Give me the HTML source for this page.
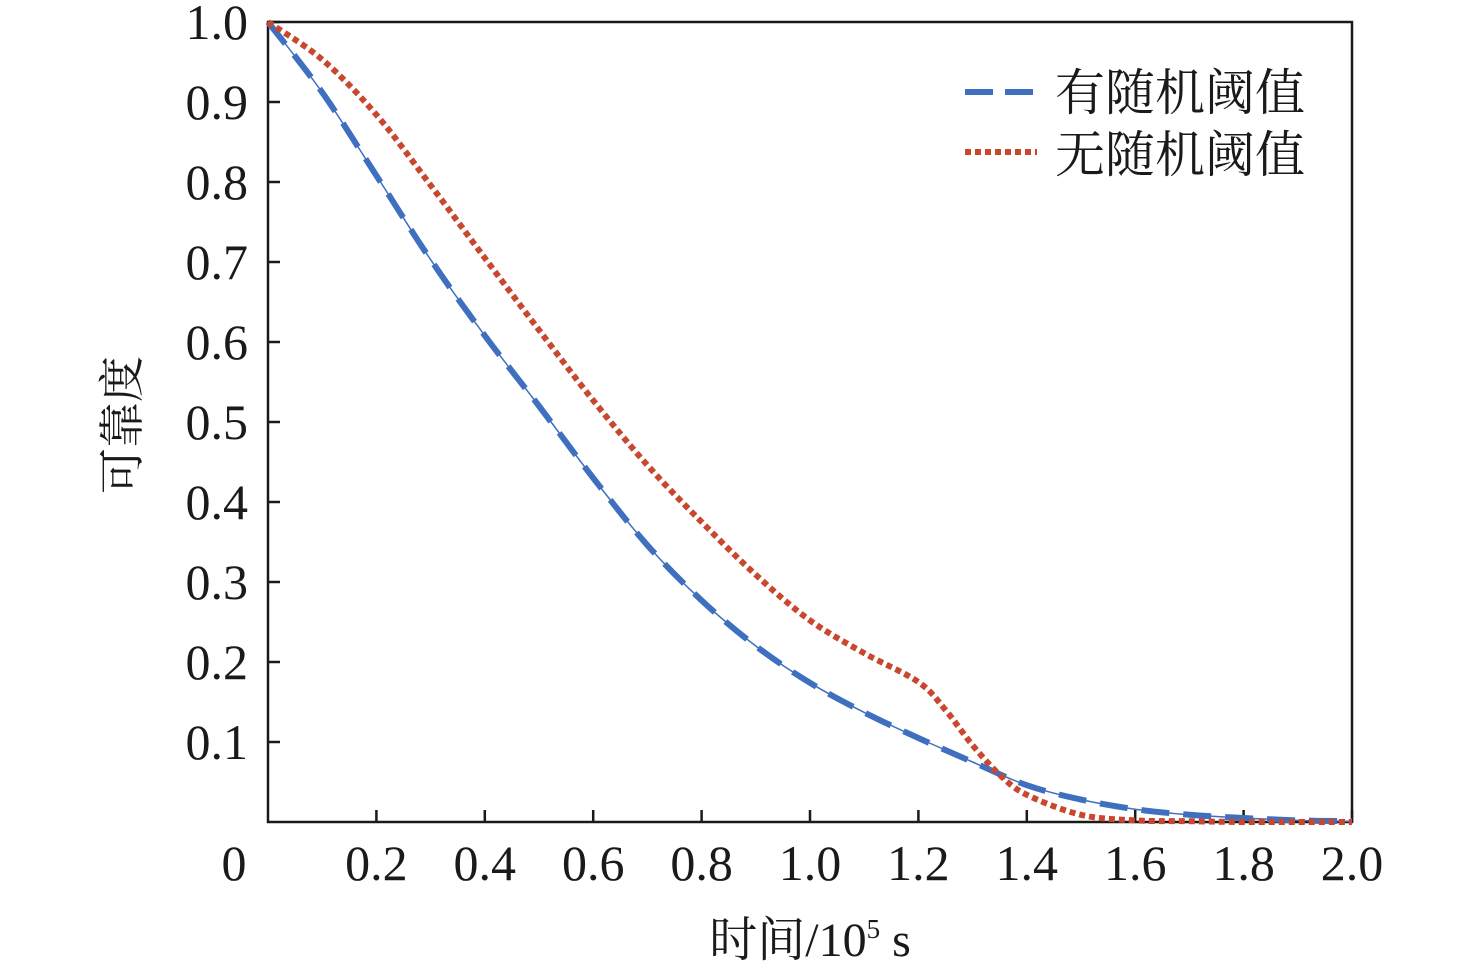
<!DOCTYPE html>
<html><head><meta charset="utf-8"><style>
body{margin:0;background:#fff}
svg text{font-family:"Liberation Serif","Noto Serif CJK SC",serif;fill:#1a1a1a}
</style></head><body>
<svg id="chart" width="1476" height="973" xmlns="http://www.w3.org/2000/svg">
<g id="axes"></g>
<g id="series"></g>
<g id="legend">
  <line x1="965" y1="92" x2="1037" y2="92" stroke="#3f6fbf" stroke-width="6" stroke-dasharray="28,12"/>
  <text x="1055" y="110" font-size="50">有随机阈值</text>
  <line x1="965" y1="152" x2="1037" y2="152" stroke="#c8472e" stroke-width="6" stroke-dasharray="6,4"/>
  <text x="1055" y="172" font-size="50">无随机阈值</text>
</g>
<text x="810" y="956" font-size="48" text-anchor="middle">时间/10<tspan font-size="27" dy="-18">5</tspan><tspan dy="18"> s</tspan></text>
<text transform="translate(138,425) rotate(-90)" font-size="46" text-anchor="middle">可靠度</text>
</svg>
<script>
const xs=[0,0.1,0.2,0.3,0.4,0.5,0.6,0.7,0.8,0.9,1.0,1.1,1.2,1.3,1.4,1.5,1.6,1.7,1.8,1.9,2.0];
const withThreshold=[1.0,0.912,0.808,0.703,0.608,0.52,0.43,0.346,0.277,0.22,0.174,0.137,0.105,0.075,0.046,0.028,0.016,0.009,0.005,0.002,0.001];
const xsNo=[0,0.1,0.2,0.3,0.4,0.5,0.6,0.7,0.8,0.9,1.0,1.1,1.2,1.25,1.3,1.35,1.4,1.5,1.6,1.7,1.8,1.9,2.0];
const withoutThreshold=[1.0,0.953,0.884,0.796,0.705,0.615,0.527,0.446,0.375,0.309,0.252,0.211,0.175,0.14,0.096,0.059,0.034,0.009,0.002,0.001,0,0,0];
const xTicks=[0.2,0.4,0.6,0.8,1.0,1.2,1.4,1.6,1.8,2.0];
const xTickLabels=["0.2","0.4","0.6","0.8","1.0","1.2","1.4","1.6","1.8","2.0"];
const yTicks=[0.1,0.2,0.3,0.4,0.5,0.6,0.7,0.8,0.9,1.0];
const yTickLabels=["0.1","0.2","0.3","0.4","0.5","0.6","0.7","0.8","0.9","1.0"];
const NS="http://www.w3.org/2000/svg";
const X=v=>268+v/2*1084, Y=v=>822-v*800;
function mk(t,a,p){const e=document.createElementNS(NS,t);for(const k in a)e.setAttribute(k,a[k]);p.appendChild(e);return e;}
const ax=document.getElementById('axes');
const frame=mk('rect',{x:268,y:22,width:1084,height:800,fill:'none',stroke:'#1a1a1a','stroke-width':2.5},ax);


xTicks.forEach((v,i)=>{
 const l=mk('line',{x1:X(v),x2:X(v),y1:822,y2:810,stroke:'#1a1a1a','stroke-width':2.5},ax);
 
 
 const t=mk('text',{x:X(v),y:880,'font-size':50,'text-anchor':'middle'},ax);t.textContent=xTickLabels[i];
 
 
});
const z=mk('text',{x:234,y:880,'font-size':50,'text-anchor':'middle'},ax);z.textContent='0';


yTicks.forEach((v,i)=>{
 const l=mk('line',{x1:268,x2:280,y1:Y(v),y2:Y(v),stroke:'#1a1a1a','stroke-width':2.5},ax);
 
 
 const t=mk('text',{x:248,y:Y(v)+17,'font-size':50,'text-anchor':'end'},ax);t.textContent=yTickLabels[i];
 
 
});
function path(xa,ya){
 const p=xa.map((x,i)=>[X(x),Y(ya[i])]);
 let d='M'+p[0][0]+','+p[0][1];
 for(let i=0;i<p.length-1;i++){
  const p0=p[i-1]||p[i],p1=p[i],p2=p[i+1],p3=p[i+2]||p2;
  d+=` C${p1[0]+(p2[0]-p0[0])/6},${p1[1]+(p2[1]-p0[1])/6} ${p2[0]-(p3[0]-p1[0])/6},${p2[1]-(p3[1]-p1[1])/6} ${p2[0]},${p2[1]}`;
 }
 return d;
}
const sg=document.getElementById('series');
const thin=mk('path',{d:path(xs,withThreshold),fill:'none',stroke:'#3f6fbf','stroke-width':1.5},sg);


const b=mk('path',{d:path(xs,withThreshold),fill:'none',stroke:'#3f6fbf','stroke-width':6,'stroke-dasharray':'28,14'},sg);


const r=mk('path',{d:path(xsNo,withoutThreshold),fill:'none',stroke:'#c8472e','stroke-width':6,'stroke-dasharray':'6,4'},sg);


</script>
</body></html>
